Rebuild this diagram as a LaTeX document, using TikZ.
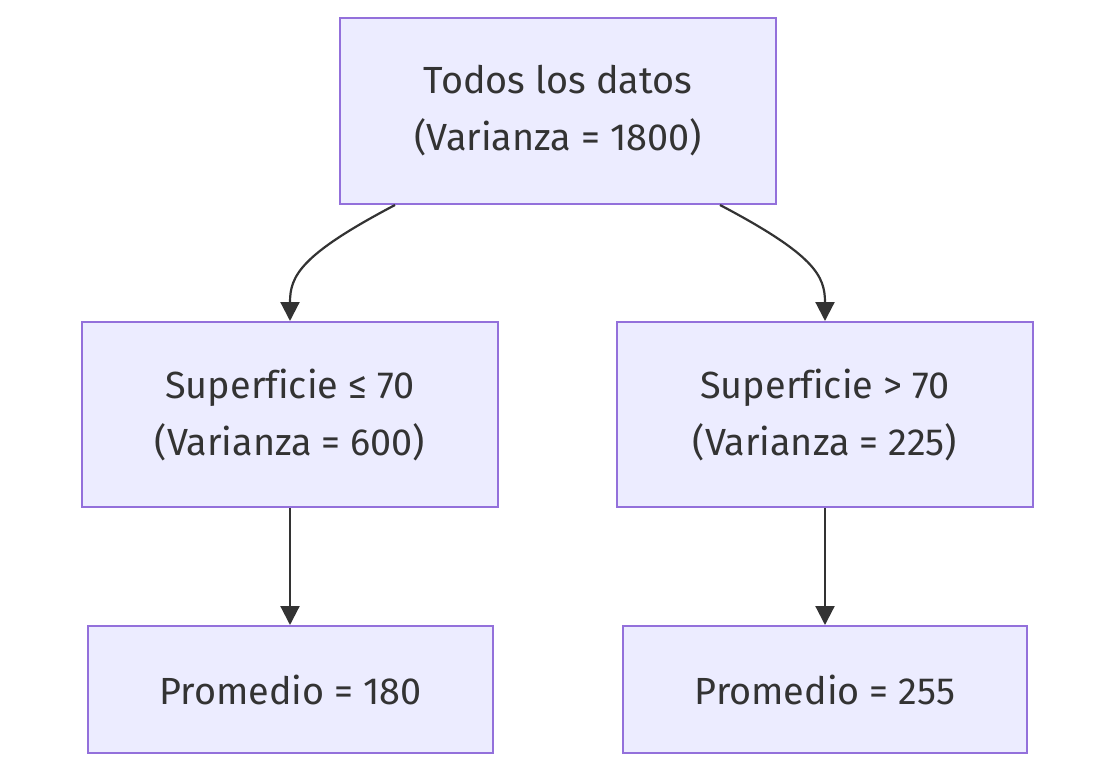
\documentclass[tikz,border=0pt]{standalone}
\usepackage{fontspec}
\setmainfont[Ligatures=NoCommon]{Fira Sans}
\usetikzlibrary{arrows.meta,calc}
\definecolor{nodefill}{HTML}{ECECFF}
\definecolor{nodeline}{HTML}{9370DB}
\definecolor{ink}{HTML}{333333}
\tikzset{
  box/.style={draw=nodeline, fill=nodefill, line width=2pt, inner sep=0pt,
    align=center, text=ink, font=\fontsize{37.8}{57}\selectfont},
  conn/.style={draw=ink, line width=2.2pt, -{Triangle[length=19pt,width=19pt]}},
}
\begin{document}
\begin{tikzpicture}[x=1pt,y=-1pt]
\useasboundingbox (0,0) rectangle (1116,773);
\node[box, minimum width=436pt, minimum height=186pt] (top) at (558,111) {Todos los datos\\(Varianza = 1800)};
\node[box, minimum width=416pt, minimum height=185pt] (ml) at (290,414.5) {Superficie ≤ 70\\(Varianza = 600)};
\node[box, minimum width=416pt, minimum height=185pt] (mr) at (825,414.5) {Superficie > 70\\(Varianza = 225)};
\node[box, minimum width=405pt, minimum height=127pt] (bl) at (290.5,689.5) {Promedio = 180};
\node[box, minimum width=404pt, minimum height=127pt] (br) at (825,689.5) {Promedio = 255};
\coordinate (s1) at ($(top.south)+(-163,0)$);
\coordinate (s2) at ($(top.south)+(162,0)$);
\draw[conn] (s1) .. controls ($(s1)+(-95,50)$) and ($(ml.north)+(0,-45)$) .. (ml.north);
\draw[conn] (s2) .. controls ($(s2)+(95,50)$) and ($(mr.north)+(0,-45)$) .. (mr.north);
\draw[conn] (ml.south) -- (ml.south |- bl.north);
\draw[conn] (mr.south) -- (mr.south |- br.north);
\end{tikzpicture}
\end{document}
